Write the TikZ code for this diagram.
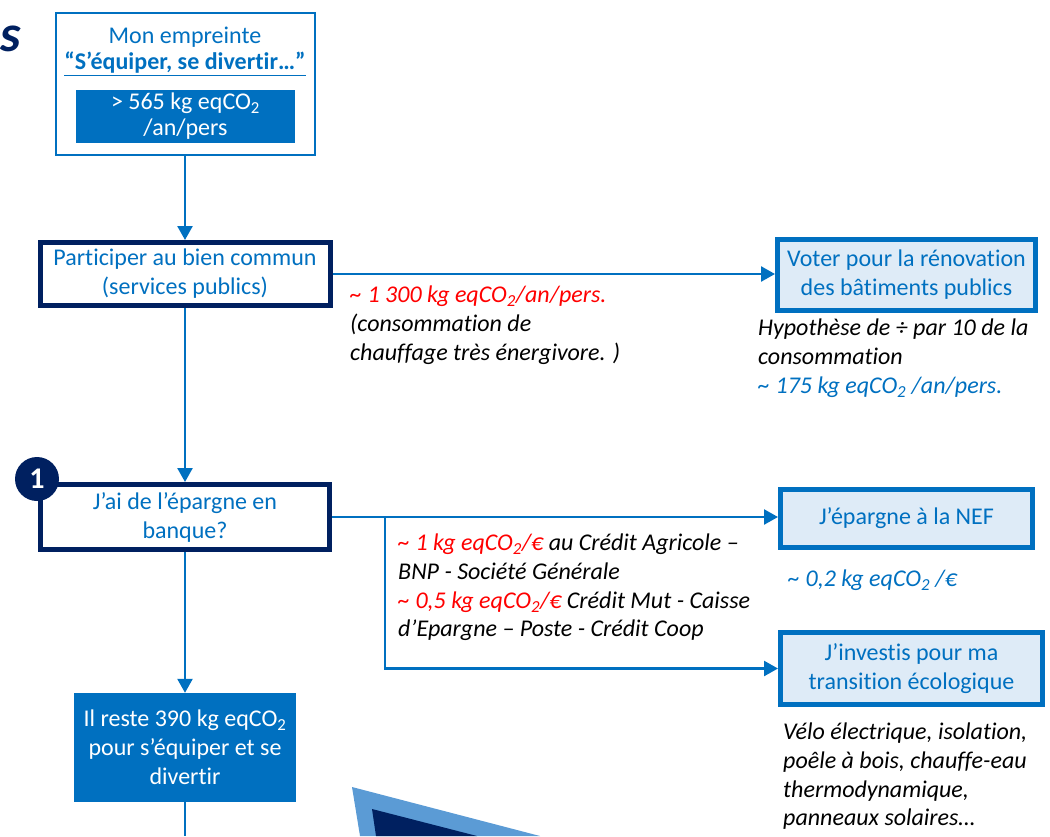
\documentclass[tikz,border=0pt]{standalone}
\usepackage{fontspec}
\setmainfont{Carlito}[Ligatures=NoCommon]
\usetikzlibrary{arrows.meta}
\definecolor{bleu}{HTML}{0070C0}
\definecolor{marine}{HTML}{002060}
\definecolor{pale}{HTML}{DEEBF7}
\definecolor{ciel}{HTML}{5B9BD5}

\begin{document}
\begin{tikzpicture}[x=1pt,y=-1pt,
    txt/.style={font=\fontsize{24}{29}\selectfont, align=center, text=bleu},
    cadre/.style={txt, draw=marine, line width=5pt, fill=white, inner sep=0pt},
    choix/.style={txt, draw=bleu, line width=5pt, fill=pale, inner sep=0pt},
    plein/.style={txt, fill=bleu, text=white, inner sep=0pt},
    note/.style={font=\fontsize{24}{28.7}\selectfont\itshape, align=left, anchor=north west, inner sep=0pt},
    fleche/.style={draw=bleu, line width=2.5pt, -{Triangle[width=15pt,length=14pt]}}]
  \useasboundingbox (0,0) rectangle (1050,836);
  \node[anchor=base west, inner sep=0pt, text=marine, font=\fontsize{52}{52}\selectfont\bfseries\itshape] (titre) at (0,51) {s};
  \node[draw=bleu, line width=2pt, minimum width=259pt, minimum height=142pt, inner sep=0pt] (empreinte) at (185,84) {};
  \node[txt] (mon) at (185,37) {Mon empreinte};
  \node[txt, font=\fontsize{24}{29}\selectfont\bfseries] (equiper) at (185,64) {\color{bleu}\underline{“S’équiper, se divertir…”}};
  \node[plein, minimum width=219pt, minimum height=53pt, font=\fontsize{24}{26}\selectfont] (total) at (185.5,116.5) {> 565 kg eqCO\textsubscript{2}\\/an/pers};
  \node[cadre, minimum width=290pt, minimum height=63pt] (commun) at (185,274) {Participer au bien commun\\(services publics)};
  \node[choix, minimum width=258pt, minimum height=71pt] (voter) at (906.5,275) {Voter pour la rénovation\\des bâtiments publics};
  \node[cadre, minimum width=289pt, minimum height=65pt] (epargne) at (185,517) {J’ai de l’épargne en\\banque?};
  \node[circle, fill=marine, text=white, minimum size=44pt, inner sep=0pt, font=\fontsize{30}{30}\selectfont\bfseries] (un) at (37,479) {1};
  \node[choix, minimum width=252pt, minimum height=58pt] (nef) at (906.5,518.5) {J’épargne à la NEF};
  \node[choix, minimum width=262pt, minimum height=72pt] (investis) at (911.5,668.5) {J’investis pour ma\\transition écologique};
  \node[plein, minimum width=222pt, minimum height=109pt] (reste) at (185,747.5) {Il reste 390 kg eqCO\textsubscript{2}\\pour s’équiper et se\\divertir};
  \node[note] (chauffage) at (350,286) {\textcolor{red}{\textasciitilde{} 1 300 kg eqCO\textsubscript{2}/an/pers.}\\(consommation de\\chauffage très énergivore. )};
  \node[note] (hypothese) at (758,319) {Hypothèse de ÷ par 10 de la\\consommation\\\textcolor{bleu}{\textasciitilde{} 175 kg eqCO\textsubscript{2} /an/pers.}};
  \node[note, text=bleu] (nefco) at (788,570) {\textasciitilde{} 0,2 kg eqCO\textsubscript{2} /€};
  \node[note] (banques) at (398,534) {\textcolor{red}{\textasciitilde{} 1 kg eqCO\textsubscript{2}/€} au Crédit Agricole –\\BNP - Société Générale\\\textcolor{red}{\textasciitilde{} 0,5 kg eqCO\textsubscript{2}/€} Crédit Mut - Caisse\\d’Epargne – Poste - Crédit Coop};
  \node[note] (exemples) at (783,723) {Vélo électrique, isolation,\\poêle à bois, chauffe-eau\\thermodynamique,\\panneaux solaires…};
  \coordinate (coude) at (385,517);
  \coordinate (bas) at (185,836);
  \draw[fleche] (empreinte.south) -- (commun.north);
  \draw[fleche] (commun.east) -- (commun.east -| voter.west);
  \draw[fleche] (commun.south) -- (epargne.north);
  \draw[fleche] (epargne.east) -- (epargne.east -| nef.west);
  \draw[fleche] (coude) |- (investis.west);
  \draw[fleche] (epargne.south) -- (reste.north);
  \draw[draw=bleu, line width=2.5pt] (reste.south) -- (bas);
  \fill[ciel] (352,787) -- (540,836) -- (360,836) -- cycle;
  \fill[marine] (372,809) -- (477,836) -- (376,836) -- cycle;
\end{tikzpicture}
\end{document}
